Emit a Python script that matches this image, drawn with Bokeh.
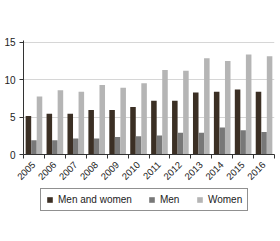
import math
from bokeh.plotting import figure
from bokeh.layouts import column
from bokeh.models import ColumnDataSource, FixedTicker, Legend, LegendItem, Range1d
from bokeh.embed import file_html
from bokeh.resources import INLINE

years = ["2005", "2006", "2007", "2008", "2009", "2010", "2011", "2012", "2013", "2014", "2015", "2016"]
men_and_women = [5.15, 5.45, 5.45, 5.95, 5.95, 6.35, 7.2, 7.2, 8.3, 8.4, 8.7, 8.4]
men = [1.9, 1.9, 2.15, 2.15, 2.35, 2.45, 2.55, 2.9, 2.9, 3.6, 3.25, 3.0]
women = [7.75, 8.6, 8.4, 9.3, 8.95, 9.55, 11.3, 11.2, 12.9, 12.5, 13.4, 13.15]

series_names = ["Men and women", "Men", "Women"]
colors = ["#3b2f24", "#787878", "#b5b5b5"]

idx = list(range(len(years)))
bw = 0.265
offsets = [-bw, 0.0, bw]

p = figure(width=280, height=186,
           min_border_left=23, min_border_right=6, min_border_top=40, min_border_bottom=32,
           x_range=Range1d(-0.5, 11.5), y_range=Range1d(0, 15.26),
           output_backend="svg", toolbar_location=None)

for vals, off, col in zip([men_and_women, men, women], offsets, colors):
    src = ColumnDataSource(dict(x=[i + off for i in idx], top=vals))
    p.vbar(x="x", top="top", width=bw, source=src, fill_color=col, line_color=None)

p.xaxis.ticker = FixedTicker(ticks=idx, minor_ticks=[i - 0.5 for i in range(len(years) + 1)])
p.xaxis.major_label_overrides = {i: y for i, y in enumerate(years)}
p.xaxis.major_label_orientation = math.pi / 4
p.xaxis.major_tick_line_color = None
p.xaxis.minor_tick_line_color = "#333333"
p.xaxis.minor_tick_out = 4
p.xaxis.minor_tick_in = 0
p.xaxis.axis_line_color = "#333333"
p.xaxis.major_label_text_font = "Liberation Sans"
p.xaxis.major_label_text_font_size = "9.5px"
p.xaxis.major_label_text_color = "#222222"
p.xaxis.major_label_standoff = 3

p.yaxis.ticker = FixedTicker(ticks=[0, 5, 10, 15])
p.yaxis.minor_tick_line_color = None
p.yaxis.major_tick_in = 0
p.yaxis.major_tick_out = 4
p.yaxis.major_tick_line_color = "#333333"
p.yaxis.axis_line_color = "#333333"
p.yaxis.major_label_text_font = "Liberation Sans"
p.yaxis.major_label_text_font_size = "10px"
p.yaxis.major_label_text_color = "#222222"
p.yaxis.major_label_standoff = 4

p.xgrid.grid_line_color = None
p.ygrid.grid_line_color = "#d6d6d6"
p.outline_line_color = None

# legend panel (separate small figure below the chart); its swatch renderers sit outside the view
lg = figure(width=280, height=55, min_border=0, x_range=Range1d(0, 1), y_range=Range1d(0, 1),
            output_backend="svg", toolbar_location=None)
lg.axis.visible = False
lg.grid.visible = False
lg.outline_line_color = None
dummies = []
for col in colors:
    src = ColumnDataSource(dict(x=[-10.0], top=[-10.0]))
    dummies.append(lg.vbar(x="x", top="top", width=0.1, source=src, fill_color=col, line_color=None))

legend = Legend(items=[LegendItem(label=n, renderers=[r]) for n, r in zip(series_names, dummies)],
                orientation="horizontal", location=(17, 30),
                border_line_color="#222222", border_line_width=1,
                label_text_font="Liberation Sans", label_text_font_size="10px",
                label_text_color="#222222",
                glyph_width=7, glyph_height=7, spacing=16, padding=5, margin=0,
                label_standoff=5, label_height=9)
lg.add_layout(legend, "center")

layout = column(p, lg, spacing=0)
open("out.html", "w").write(file_html(layout, INLINE))
